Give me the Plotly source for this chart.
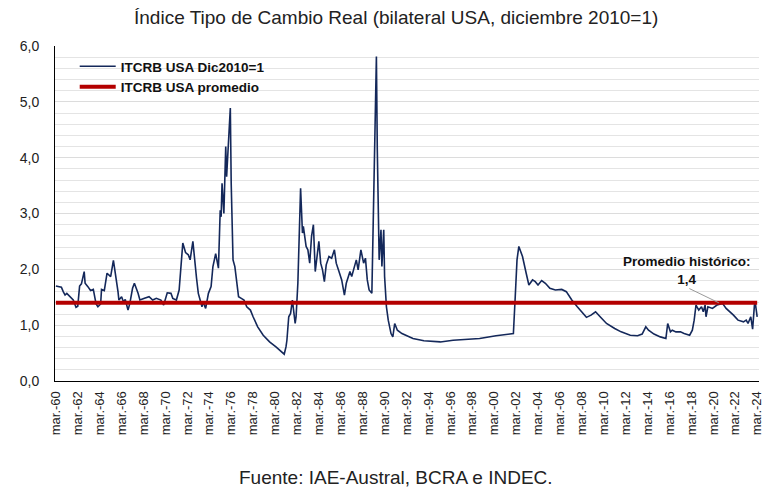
import plotly.graph_objects as go

# Monthly points (YYYY-MM, index value)
dates = [
    "1960-03","1960-09","1960-11","1961-01","1961-03","1961-06","1961-10","1962-01","1962-03","1962-05",
    "1962-07","1962-10","1962-11","1963-02","1963-05","1963-08","1963-11","1964-01","1964-04","1964-05",
    "1964-08","1964-11","1965-03","1965-06","1965-09","1965-11","1965-12","1966-03","1966-05","1966-07",
    "1966-10","1966-12","1967-03","1967-05","1967-09","1967-11","1968-04","1968-09","1969-01","1969-05",
    "1969-10","1970-01","1970-05","1970-09","1970-11","1971-03","1971-06","1971-10","1972-01","1972-04",
    "1972-06","1972-09","1973-01","1973-03","1973-05","1973-07","1973-08","1973-11","1974-02","1974-05",
    "1974-07","1974-10","1975-01","1975-03","1975-04","1975-05","1975-07","1975-09","1975-10","1975-12",
    "1976-02","1976-03","1976-05","1976-07","1976-09","1976-11","1977-02","1977-05","1977-08","1977-12",
    "1978-03","1978-08","1979-02","1979-09","1980-04","1980-09","1981-01","1981-03","1981-04","1981-06",
    "1981-08","1981-10","1982-01","1982-02","1982-04","1982-07","1982-09","1982-10","1983-01","1983-03",
    "1983-05","1983-07","1983-09","1983-11","1984-03","1984-05","1984-07","1984-09","1984-11","1985-02",
    "1985-05","1985-08","1985-10","1986-01","1986-04","1986-07","1986-09","1987-01","1987-03","1987-05",
    "1987-08","1987-10","1988-01","1988-04","1988-06","1988-08","1988-10","1989-01","1989-03","1989-06",
    "1989-07","1989-09","1989-11","1989-12","1990-02","1990-03","1990-05","1990-07","1990-10","1990-12",
    "1991-02","1991-05","1991-10","1992-05","1992-10","1993-10","1995-04","1996-06","1998-11","2000-05",
    "2001-12","2002-02","2002-04","2002-06","2002-08","2002-10","2003-02","2003-05","2003-09","2003-12",
    "2004-03","2004-07","2004-11","2005-04","2005-10","2006-05","2006-10","2007-04","2007-10","2008-03",
    "2008-08","2009-01","2009-06","2009-11","2010-06","2011-03","2011-10","2012-08","2013-04","2013-09",
    "2014-01","2014-04","2014-10","2015-05","2015-11","2016-01","2016-04","2016-06","2016-10","2017-03",
    "2017-07","2018-01","2018-04","2018-06","2018-08","2018-11","2019-02","2019-04","2019-06","2019-07",
    "2019-09","2020-02","2020-07","2021-01","2021-05","2022-01","2022-06","2022-12","2023-03","2023-05",
    "2023-08","2023-10","2023-12","2024-01","2024-03",
]
itcrb = [
    1.70,1.68,1.60,1.54,1.57,1.51,1.45,1.32,1.34,1.70,
    1.74,1.96,1.75,1.69,1.62,1.64,1.38,1.33,1.38,1.64,
    1.62,1.93,1.87,2.16,1.87,1.60,1.45,1.51,1.42,1.46,
    1.27,1.39,1.66,1.75,1.57,1.45,1.48,1.51,1.45,1.48,
    1.45,1.36,1.58,1.57,1.48,1.45,1.63,2.47,2.30,2.26,
    2.17,2.50,1.84,1.57,1.45,1.33,1.42,1.30,1.57,1.69,
    2.05,2.28,2.02,3.06,2.94,3.54,3.00,4.20,3.66,4.32,
    4.89,3.54,2.17,2.05,1.81,1.51,1.48,1.45,1.33,1.27,
    1.15,0.97,0.82,0.70,0.61,0.54,0.48,0.61,0.73,1.15,
    1.21,1.45,1.03,1.15,1.75,3.45,2.65,2.77,2.41,2.35,
    2.11,2.59,2.80,1.96,2.50,2.11,1.99,1.78,2.08,2.23,
    2.20,2.35,2.11,1.96,1.81,1.54,1.75,1.96,1.87,1.99,
    2.17,1.99,2.35,2.11,2.20,1.81,1.63,1.57,3.54,5.81,
    4.14,2.17,2.71,2.05,2.71,1.87,1.33,1.09,0.85,0.79,
    1.03,0.91,0.85,0.79,0.76,0.72,0.70,0.73,0.76,0.81,
    0.85,1.51,2.17,2.41,2.32,2.23,1.93,1.72,1.81,1.78,
    1.72,1.80,1.75,1.66,1.63,1.64,1.60,1.45,1.33,1.24,
    1.14,1.18,1.24,1.15,1.03,0.94,0.88,0.82,0.81,0.84,
    0.97,0.91,0.84,0.79,0.76,1.03,0.88,0.91,0.88,0.88,
    0.85,0.82,0.91,1.09,1.36,1.27,1.33,1.24,1.36,1.15,
    1.33,1.30,1.36,1.39,1.30,1.18,1.09,1.06,1.09,1.03,
    1.15,0.93,1.36,1.39,1.15,
]
promedio = 1.4

tick_years = list(range(1960, 2025, 2))
tick_vals = [f"{y}-03-01" for y in tick_years]
tick_text = [f"mar.-{y % 100:02d}" for y in tick_years]

font_family = "Liberation Sans, Arial, sans-serif"

fig = go.Figure()
fig.add_trace(go.Scatter(
    x=dates, y=itcrb, mode="lines", name="ITCRB USA Dic2010=1",
    line=dict(color="#14285a", width=1.6),
))
fig.add_trace(go.Scatter(
    x=[dates[0], dates[-1]], y=[promedio, promedio], mode="lines",
    name="ITCRB USA promedio",
    line=dict(color="#b40000", width=4),
))

fig.update_layout(
    width=777, height=497,
    margin=dict(l=38, r=26, t=38, b=124),
    paper_bgcolor="white", plot_bgcolor="white",
    separators=",.",
    font=dict(family=font_family, size=13, color="#222222"),
    showlegend=True,
    legend=dict(
        x=0.028, y=0.985, xanchor="left", yanchor="top",
        bgcolor="rgba(0,0,0,0)",
        font=dict(family=font_family, size=13.5, color="#111111", weight="bold"),
        itemwidth=36, tracegroupgap=2,
    ),
    xaxis=dict(
        type="date",
        range=["1960-02-01", "2024-05-01"],
        tickmode="array", tickvals=tick_vals, ticktext=tick_text,
        tickangle=-90, tickfont=dict(size=13, color="#222222"),
        ticklabelstandoff=4,
        showgrid=False, showline=True, linecolor="black", linewidth=1,
        ticks="", zeroline=False,
    ),
    yaxis=dict(
        range=[0, 6], dtick=1, tickformat=".1f",
        tickfont=dict(size=14, color="#222222"),
        ticklabelstandoff=12,
        showgrid=True, gridcolor="#dcdcdc", gridwidth=1,
        minor=dict(dtick=0.2, showgrid=True, gridcolor="#e4e4e4", gridwidth=1),
        showline=True, linecolor="black", linewidth=1,
        zeroline=False, ticks="",
    ),
    annotations=[
        dict(
            text="Índice Tipo de Cambio Real (bilateral USA, diciembre 2010=1)",
            xref="paper", yref="paper", x=0.5, y=1, yshift=29, xshift=-11,
            xanchor="center", yanchor="middle", showarrow=False,
            font=dict(family=font_family, size=19, color="#222222"),
        ),
        dict(
            text="Fuente: IAE-Austral, BCRA e INDEC.",
            xref="paper", yref="paper", x=0.5, y=0, yshift=-96, xshift=-11,
            xanchor="center", yanchor="middle", showarrow=False,
            font=dict(family=font_family, size=19, color="#222222"),
        ),
        dict(
            text="Promedio histórico:<br>1,4",
            xref="x", yref="y", x="2017-10-01", y=promedio,
            yshift=32, xanchor="center", yanchor="middle", showarrow=False,
            font=dict(family=font_family, size=13.5, color="#111111", weight="bold"),
        ),
        dict(
            text="", xref="x", yref="y", x="2020-09-01", y=promedio,
            ax=-31, ay=-15, showarrow=True, arrowhead=0,
            arrowcolor="#9a9a9a", arrowwidth=1,
        ),
    ],
)

fig.write_html("out.html")
